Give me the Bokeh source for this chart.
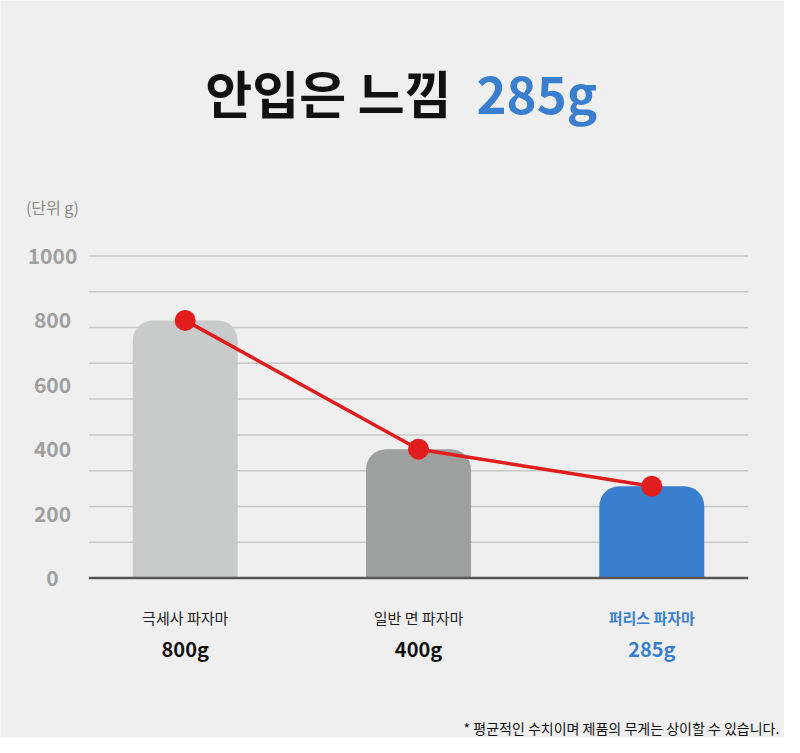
from bokeh.plotting import figure
from bokeh.models import Range1d, ColumnDataSource
from bokeh.core.properties import value
from bokeh.embed import file_html
from bokeh.resources import INLINE

# ---------------- data ----------------
CATEGORIES = ["극세사 파자마", "일반 면 파자마", "퍼리스 파자마"]
WEIGHTS = [800, 400, 285]
VALUE_LABELS = ["800g", "400g", "285g"]
Y_TICKS = [0, 200, 400, 600, 800, 1000]
Y_TICK_LABELS = ["0", "200", "400", "600", "800", "1000"]
GRID_LEVELS = [111.1, 222.2, 333.3, 444.4, 555.6, 666.7, 777.8, 888.9, 1000]
TITLE_MAIN = "안입은 느낌"
TITLE_HIGHLIGHT = "285g"
UNIT_LABEL = "(단위 g)"
FOOTNOTE = "*  평균적인 수치이며 제품의 무게는 상이할 수 있습니다."

# ---------------- styles ----------------
BG = "#efefef"
BAR_COLORS = ["#c9caca", "#9e9f9f", "#3a7fcf"]
NAME_COLORS = ["#222222", "#222222", "#3a7fcf"]
NAME_STYLES = ["normal", "normal", "bold"]
VALUE_COLORS = ["#111111", "#111111", "#3a7fcf"]
RED = "#e11d1d"
FONT = value("Noto Sans CJK KR")

W, H = 784, 737
# pixel (reference image) -> data helpers, layout only
X0_PX, X_STEP = 184.7, 233.3
Y0_PX, Y_SCALE = 577.5, 0.322


def dx(px):
    return (px - X0_PX) / X_STEP


def dy(py):
    return (Y0_PX - py) / Y_SCALE


p = figure(
    width=W, height=H,
    x_range=Range1d(dx(0), dx(W)),
    y_range=Range1d(dy(H), dy(0)),
    x_axis_type=None, y_axis_type=None,
    toolbar_location=None, output_backend="svg",
    min_border=0, outline_line_color=None,
    background_fill_color=BG, border_fill_color=BG,
)

xs = list(range(len(CATEGORIES)))
src = ColumnDataSource(dict(
    x=xs, w=WEIGHTS, color=BAR_COLORS, name=CATEGORIES,
    name_color=NAME_COLORS, name_style=NAME_STYLES,
    val=VALUE_LABELS, val_color=VALUE_COLORS,
))

g_left, g_right = dx(88.3), dx(747.7)

# gridlines
p.segment(x0=[g_left] * len(GRID_LEVELS), x1=[g_right] * len(GRID_LEVELS),
          y0=GRID_LEVELS, y1=GRID_LEVELS, line_color="#c8c8c8", line_width=1.5)

# bars
p.vbar(x="x", top="w", bottom=0, width=105 / X_STEP, fill_color="color",
       line_color=None, border_radius=(20, 20, 0, 0), source=src)

# baseline
p.segment(x0=[g_left], x1=[g_right], y0=[0], y1=[0], line_color="#555555", line_width=2.5)

# red line + dots
p.line(x="x", y="w", line_color=RED, line_width=3.5, source=src)
p.scatter(x="x", y="w", size=21, fill_color=RED, line_color=None, source=src)

# y tick labels
p.text(x=[dx(52)] * len(Y_TICKS), y=Y_TICKS, text=Y_TICK_LABELS,
       text_font=FONT, text_font_style="bold", text_font_size="21px",
       text_color="#a0a0a0", text_align="center", text_baseline="middle")

# unit label
p.text(x=[dx(52)], y=[dy(206.5)], text=[UNIT_LABEL], text_font=FONT,
       text_font_size="16px", text_color="#8a8a8a", text_align="center",
       text_baseline="middle")

# category names and values
p.text(x="x", y=dy(617), text="name", text_font=FONT, text_font_size="15px",
       text_font_style="name_style", text_color="name_color",
       text_align="center", text_baseline="middle", source=src)
p.text(x="x", y=dy(648), text="val", text_font=FONT, text_font_size="20px",
       text_font_style="bold", text_color="val_color",
       text_align="center", text_baseline="middle", source=src)

# title
p.text(x=[dx(451)], y=[dy(91)], text=[TITLE_MAIN], text_font=FONT,
       text_font_size="51px", text_font_style="bold", text_color="#111111",
       text_align="right", text_baseline="middle")
p.text(x=[dx(476)], y=[dy(91)], text=[TITLE_HIGHLIGHT], text_font=FONT,
       text_font_size="51px", text_font_style="bold", text_color="#3a7fcf",
       text_align="left", text_baseline="middle")

# footnote
p.text(x=[dx(782)], y=[dy(727)], text=[FOOTNOTE], text_font=FONT,
       text_font_size="14px", text_color="#111111", text_align="right",
       text_baseline="middle")

open("out.html", "w").write(file_html(p, INLINE))
